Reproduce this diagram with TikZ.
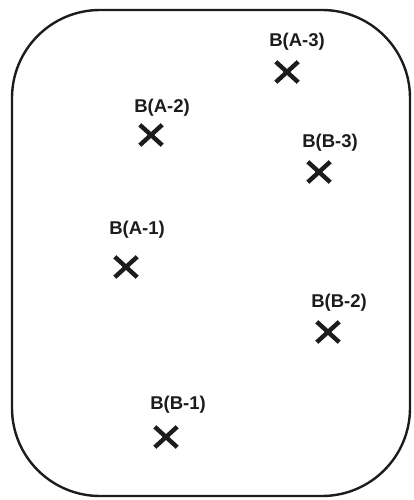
\documentclass[tikz,border=0pt]{standalone}
\usepackage{fontspec}
\setmainfont{Liberation Sans}
\usetikzlibrary{shapes.misc}
\definecolor{ink}{HTML}{1C1C1C}
\begin{document}
\begin{tikzpicture}[x=1pt,y=-1pt,
  lbl/.style={font=\bfseries\fontsize{18.5}{22}\selectfont, text=ink, inner sep=0pt},
  xmark/.style={cross out, draw=ink, line width=4.4pt, minimum width=18pt, minimum height=16pt, inner sep=0pt}]
\useasboundingbox (0,0) rectangle (414,500);
\draw[ink, line width=2.4pt, rounded corners=88pt] (12,10) rectangle (410,496);
\node[lbl] (lA3) at (297,42) {B(A-3)};
\node[xmark] (xA3) at (287,72) {};
\node[lbl] (lA2) at (162,108) {B(A-2)};
\node[xmark] (xA2) at (151,135) {};
\node[lbl] (lB3) at (330,143) {B(B-3)};
\node[xmark] (xB3) at (319,172) {};
\node[lbl] (lA1) at (137,230) {B(A-1)};
\node[xmark] (xA1) at (126,267) {};
\node[lbl] (lB2) at (339,303) {B(B-2)};
\node[xmark] (xB2) at (328,332) {};
\node[lbl] (lB1) at (178,405) {B(B-1)};
\node[xmark] (xB1) at (166,437) {};
\end{tikzpicture}
\end{document}
